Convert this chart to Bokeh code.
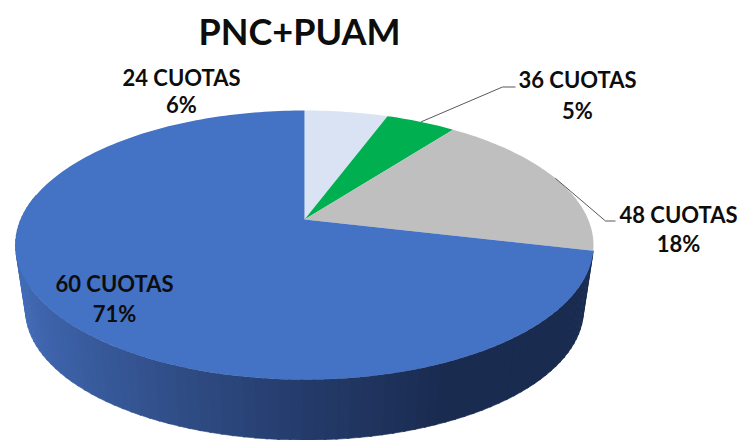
import math
from bokeh.plotting import figure
from bokeh.models import Range1d
from bokeh.core.properties import value
from bokeh.embed import file_html
from bokeh.resources import INLINE

title = "PNC+PUAM"
categories = ["24 CUOTAS", "36 CUOTAS", "48 CUOTAS", "60 CUOTAS"]
shares = [5.6, 4.7, 18.4, 71.3]
percent_labels = ["6%", "5%", "18%", "71%"]
colors = ["#dae3f3", "#00b050", "#bfbfbf", "#4472c4"]
label_x = [181, 577, 678, 114]
label_y_name = [77, 79, 214, 283]
label_y_pct = [104, 110, 243, 313]

W, H = 740, 440
CX, CY = 304, 219      # apex of the pie on the page
A, B, K = 283.7, 129.7, 0.19   # projective circle
DEPTH, SHRINK = 66, 0.965      # extrusion of the rim


def rim(theta, drop=0.0, scale=1.0):
    u, v = math.sin(theta), math.cos(theta)
    d = 1 + K * v
    return CX + scale * A * u / d, CY + drop - scale * B * v / d


p = figure(width=W, height=H, output_backend="svg", toolbar_location=None,
           x_range=Range1d(0, W), y_range=Range1d(H, 0),
           min_border=0, outline_line_color=None)
p.axis.visible = False
p.grid.visible = False
p.background_fill_color = "white"

# cumulative angles
edges = [0.0]
for s in shares:
    edges.append(edges[-1] + s / sum(shares) * 2 * math.pi)

# side wall of the blue slice: silhouette to silhouette
t_start = edges[3]
t_end = 2 * math.pi - math.acos(K)
n = 90
c0, c1 = (0x43, 0x6c, 0xb8), (0x1a, 0x2b, 0x50)
wx, wy, wc = [], [], []
for i in range(n):
    a = t_start + (t_end - t_start) * i / n
    b = t_start + (t_end - t_start) * (i + 1) / n + 0.006
    xa, ya = rim(a)
    xb, yb = rim(b)
    xc, yc = rim(b, DEPTH, SHRINK)
    xd, yd = rim(a, DEPTH, SHRINK)
    wx.append([xa, xb, xc, xd])
    wy.append([ya, yb, yc, yd])
    mid = (xa + xb) / 2
    f = min(1, max(0, (mid - 15) / 430)) ** 0.75
    wc.append("#%02x%02x%02x" % tuple(round(c0[j] + (c1[j] - c0[j]) * f) for j in range(3)))
p.patches(wx, wy, fill_color=wc, line_color=wc, line_width=0.6)

# top face
xs, ys = [], []
for i in range(len(shares)):
    steps = max(4, int(shares[i] * 3))
    pts = [rim(edges[i] + (edges[i + 1] - edges[i]) * j / steps) for j in range(steps + 1)]
    xs.append([CX] + [q[0] for q in pts])
    ys.append([CY] + [q[1] for q in pts])
p.patches(xs, ys, fill_color=colors, line_color=None)

# leader lines from slice mid-angle to the labels
for idx, elbow, end in [(1, (502, 86.5), (515, 86.5)), (2, (605, 220.5), (615, 220.5))]:
    sx, sy = rim((edges[idx] + edges[idx + 1]) / 2)
    p.line([sx, elbow[0], end[0]], [sy, elbow[1], end[1]], line_color="#595959", line_width=1)

common = dict(text_font=value("Lato"), text_font_style="bold", text_color="#0d0d0d",
              text_align="center", text_baseline="middle")
p.text([299], [30], text=[title], text_font_size="36px", **common)
p.text(label_x, label_y_name, text=categories, text_font_size="22px", **common)
p.text(label_x, label_y_pct, text=percent_labels, text_font_size="22px", **common)

open("out.html", "w").write(file_html(p, INLINE))
